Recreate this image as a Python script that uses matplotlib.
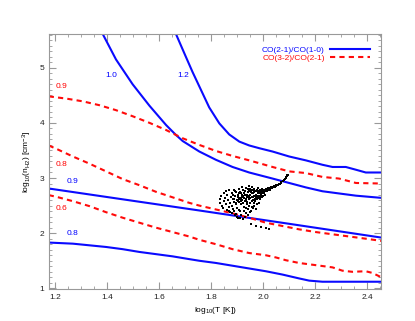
import matplotlib
matplotlib.use("Agg")
import matplotlib.pyplot as plt
from matplotlib.ticker import MultipleLocator

plt.rcParams['font.family'] = ['Liberation Sans', 'DejaVu Sans']
plt.rcParams['mathtext.fontset'] = 'custom'
plt.rcParams['mathtext.rm'] = 'Liberation Sans'
plt.rcParams['mathtext.default'] = 'regular'

# CO(2-1)/CO(1-0) ratio contours (blue, solid): log T vs log n
b12_t = [1.664, 1.700, 1.728, 1.754, 1.792, 1.831, 1.869, 1.908, 1.946, 1.985, 2.036, 2.100,
         2.164, 2.228, 2.267, 2.318, 2.357, 2.395, 2.455]
b12_n = [5.61, 5.22, 4.92, 4.66, 4.28, 3.99, 3.79, 3.66, 3.59, 3.54, 3.48, 3.39,
         3.32, 3.24, 3.20, 3.20, 3.15, 3.10, 3.10]
b10_t = [1.382, 1.433, 1.497, 1.562, 1.626, 1.664, 1.690, 1.754, 1.818, 1.882, 1.946,
         2.036, 2.100, 2.164, 2.228, 2.292, 2.357, 2.455]
b10_n = [5.61, 5.15, 4.70, 4.31, 3.96, 3.78, 3.67, 3.48, 3.33, 3.20, 3.10,
         2.99, 2.91, 2.83, 2.76, 2.72, 2.68, 2.64]
b09_t = [1.174, 1.45, 1.756, 2.10, 2.455]
b09_n = [2.81, 2.62, 2.41, 2.17, 1.92]
b08_t = [1.174, 1.267, 1.331, 1.395, 1.459, 1.523, 1.587, 1.651, 1.715, 1.754, 1.818,
         1.882, 1.946, 2.010, 2.074, 2.138, 2.177, 2.228, 2.455]
b08_n = [1.83, 1.81, 1.78, 1.75, 1.71, 1.66, 1.62, 1.58, 1.53, 1.50, 1.46,
         1.41, 1.36, 1.31, 1.25, 1.18, 1.14, 1.12, 1.12]

# CO(3-2)/CO(2-1) ratio contours (red, dashed)
r09_t = [1.174, 1.241, 1.305, 1.369, 1.433, 1.497, 1.562, 1.626, 1.690, 1.754, 1.818,
         1.882, 1.946, 2.036, 2.100, 2.164, 2.228, 2.292, 2.357, 2.455]
r09_n = [4.48, 4.44, 4.39, 4.32, 4.23, 4.12, 4.00, 3.87, 3.72, 3.60, 3.49,
         3.40, 3.32, 3.20, 3.12, 3.09, 3.02, 2.99, 2.91, 2.90]
r08_t = [1.174, 1.203, 1.267, 1.331, 1.395, 1.459, 1.523, 1.587, 1.651, 1.715, 1.754,
         1.818, 1.882, 1.946, 2.010, 2.074, 2.138, 2.203, 2.267, 2.331, 2.395, 2.455]
r08_n = [3.59, 3.53, 3.39, 3.26, 3.12, 2.98, 2.87, 2.75, 2.65, 2.55, 2.50,
         2.43, 2.36, 2.28, 2.19, 2.13, 2.07, 2.02, 1.98, 1.94, 1.90, 1.86]
r06_t = [1.174, 1.203, 1.267, 1.331, 1.395, 1.459, 1.523, 1.587, 1.651, 1.715, 1.754,
         1.818, 1.882, 1.946, 2.010, 2.049, 2.087, 2.138, 2.203, 2.267, 2.305, 2.343,
         2.395, 2.420, 2.455]
r06_n = [2.69, 2.66, 2.58, 2.49, 2.38, 2.28, 2.19, 2.10, 2.02, 1.94, 1.88,
         1.80, 1.71, 1.64, 1.60, 1.56, 1.51, 1.46, 1.42, 1.38, 1.32, 1.30,
         1.31, 1.28, 1.20]

# contour labels
lab_text = ["1.0", "1.2", "0.9", "0.8", "0.9", "0.6", "0.8"]
lab_t = [1.414, 1.692, 1.223, 1.223, 1.267, 1.223, 1.267]
lab_n = [4.85, 4.85, 4.65, 3.24, 2.94, 2.44, 2.00]
lab_col = ["blue", "blue", "red", "red", "blue", "red", "blue"]

# observed points
cloud_t = [1.832, 1.835, 1.838, 1.842, 1.845, 1.848, 1.850, 1.853, 1.855, 1.858,
           1.860, 1.862, 1.865, 1.868, 1.870, 1.872, 1.874, 1.876, 1.878, 1.880,
           1.882, 1.884, 1.886, 1.888, 1.890, 1.892, 1.894, 1.896, 1.898, 1.900,
           1.902, 1.904, 1.906, 1.908, 1.910, 1.912, 1.914, 1.916, 1.918, 1.920,
           1.922, 1.924, 1.926, 1.928, 1.930, 1.932, 1.934, 1.936, 1.938, 1.940,
           1.942, 1.944, 1.946, 1.948, 1.950, 1.952, 1.954, 1.956, 1.958, 1.960,
           1.962, 1.964, 1.966, 1.968, 1.970, 1.972, 1.974, 1.976, 1.978, 1.980,
           1.982, 1.984, 1.986, 1.988, 1.990, 1.992, 1.994, 1.996, 1.998, 2.000,
           2.003, 2.006,
           1.905, 1.911, 1.917, 1.923, 1.929, 1.935, 1.941, 1.947, 1.953, 1.959,
           1.965, 1.971, 1.977, 1.983, 1.989, 1.995, 1.915, 1.927, 1.939, 1.951,
           1.963, 1.975, 1.987, 1.999, 1.925, 1.945, 1.965, 1.985,
           1.885, 1.889, 1.893, 1.897, 1.901, 1.903, 1.907, 1.913, 1.919, 1.921,
           1.931, 1.933, 1.937, 1.943, 1.949, 1.955, 1.957, 1.961, 1.967, 1.969,
           1.973, 1.979, 1.981, 1.985, 1.991, 1.993, 1.997, 2.001, 2.004, 2.008,
           1.870, 1.880, 1.888, 1.896, 1.905, 1.915, 1.925, 1.935, 1.945, 1.955,
           1.965, 1.975, 1.960, 1.950,
           2.010, 2.015, 2.020, 2.025, 2.030, 2.035, 2.040, 2.045, 2.050, 2.055,
           2.060, 2.065, 2.070, 2.075, 2.080, 2.084, 2.088, 2.091, 2.094,
           2.012, 2.018, 2.028, 2.038, 2.048, 2.058, 2.068, 2.078, 2.086, 2.092,
           2.005, 2.000,
           1.953, 1.972, 1.991, 2.010, 2.023,
           1.900, 1.910, 1.930, 1.940]
cloud_n = [2.55, 2.62, 2.68, 2.50, 2.45, 2.72, 2.58, 2.64, 2.76, 2.52,
           2.42, 2.69, 2.60, 2.78, 2.47, 2.55, 2.38, 2.66, 2.72, 2.50,
           2.62, 2.44, 2.79, 2.57, 2.68, 2.33, 2.52, 2.74, 2.61, 2.46,
           2.70, 2.28, 2.56, 2.80, 2.64, 2.40, 2.72, 2.52, 2.84, 2.60,
           2.25, 2.68, 2.48, 2.76, 2.58, 2.36, 2.82, 2.66, 2.52, 2.74,
           2.44, 2.86, 2.62, 2.70, 2.55, 2.78, 2.40, 2.66, 2.84, 2.60,
           2.72, 2.50, 2.80, 2.68, 2.58, 2.76, 2.44, 2.64, 2.72, 2.82,
           2.54, 2.68, 2.78, 2.62, 2.74, 2.70, 2.80, 2.66, 2.76, 2.72,
           2.78, 2.70,
           2.62, 2.75, 2.66, 2.78, 2.70, 2.60, 2.80, 2.68, 2.74, 2.66,
           2.74, 2.70, 2.78, 2.74, 2.68, 2.72, 2.58, 2.64, 2.70, 2.64,
           2.68, 2.62, 2.72, 2.68, 2.72, 2.76, 2.78, 2.76,
           2.70, 2.62, 2.76, 2.55, 2.66, 2.58, 2.72, 2.62, 2.70, 2.55,
           2.76, 2.62, 2.56, 2.66, 2.80, 2.58, 2.72, 2.78, 2.62, 2.76,
           2.66, 2.68, 2.76, 2.64, 2.76, 2.66, 2.74, 2.75, 2.73, 2.77,
           2.40, 2.36, 2.40, 2.35, 2.42, 2.33, 2.40, 2.45, 2.50, 2.48,
           2.55, 2.52, 2.45, 2.38,
           2.80, 2.76, 2.82, 2.79, 2.84, 2.81, 2.86, 2.84, 2.88, 2.87,
           2.90, 2.90, 2.93, 2.94, 2.97, 2.99, 3.02, 3.04, 3.06,
           2.77, 2.79, 2.81, 2.83, 2.86, 2.88, 2.91, 2.95, 3.00, 3.05,
           2.76, 2.76,
           2.16, 2.13, 2.11, 2.09, 2.07,
           2.30, 2.27, 2.30, 2.33]

fig = plt.figure(figsize=(4.15, 3.21), dpi=100)
ax = fig.add_axes([0.118, 0.100, 0.801, 0.794])

blue = '#0a0aff'
red = '#ff0a0a'
ax.plot(b12_t, b12_n, color=blue, lw=1.5, label='CO(2-1)/CO(1-0)')
ax.plot(b10_t, b10_n, color=blue, lw=1.5)
ax.plot(b09_t, b09_n, color=blue, lw=1.5)
ax.plot(b08_t, b08_n, color=blue, lw=1.5)
ax.plot(r09_t, r09_n, color=red, lw=1.5, dashes=(2.5, 2), label='CO(3-2)/CO(2-1)')
ax.plot(r08_t, r08_n, color=red, lw=1.5, dashes=(2.5, 2))
ax.plot(r06_t, r06_n, color=red, lw=1.5, dashes=(2.5, 2))

ax.scatter(cloud_t, cloud_n, s=4, color='black', marker='s', linewidths=0, zorder=3)

for txt, t, n, c in zip(lab_text, lab_t, lab_n, lab_col):
    ax.text(t, n, txt, color=c, fontsize=6, ha='center', va='center')

ax.set_xlim(1.175, 2.455)
ax.set_ylim(0.99, 5.61)
ax.xaxis.set_major_locator(MultipleLocator(0.2))
ax.xaxis.set_minor_locator(MultipleLocator(0.05))
ax.yaxis.set_major_locator(MultipleLocator(1))
ax.yaxis.set_minor_locator(MultipleLocator(0.1))
ax.tick_params(which='both', direction='in', top=True, right=True, colors='#999999',
               labelcolor='#222222', labelsize=6)
ax.tick_params(which='major', length=5, width=0.8)
ax.tick_params(which='minor', length=2.5, width=0.6)
for sp in ax.spines.values():
    sp.set_color('#999999')
    sp.set_linewidth(0.8)

ax.set_xlabel('log$_{10}$(T [K])', fontsize=6, labelpad=3)
ax.set_ylabel('log$_{10}$(n$_{H2}$) [cm$^{-3}$]', fontsize=6, labelpad=4)

ax.legend(loc='upper right', frameon=False, markerfirst=False, labelcolor='linecolor',
          fontsize=6, handlelength=4.8, handletextpad=0.6, labelspacing=0.1,
          borderaxespad=1.0)

fig.savefig('out.png', dpi=100)
